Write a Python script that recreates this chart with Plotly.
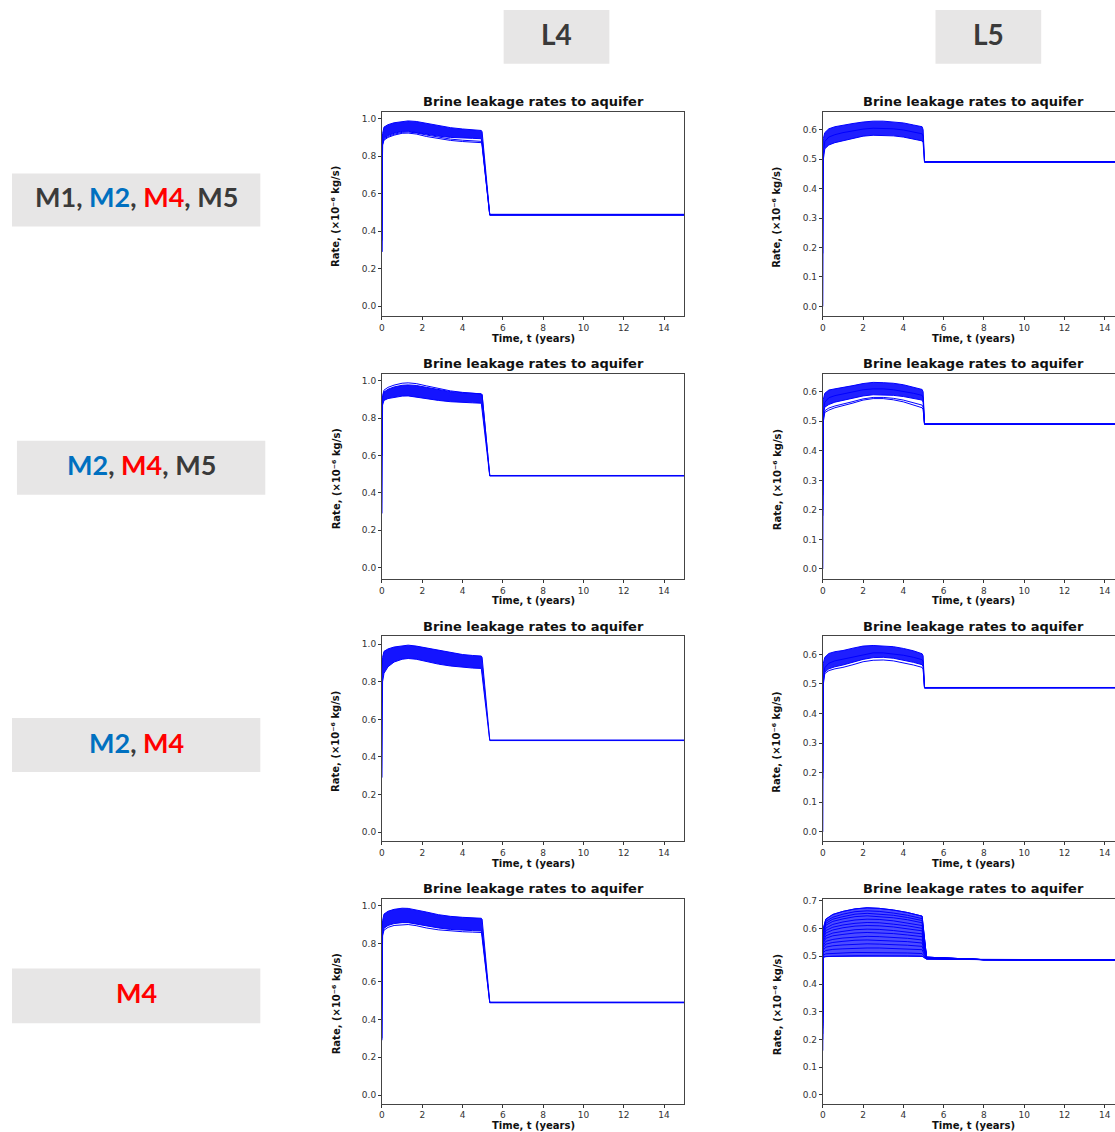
import plotly.graph_objects as go

# ---------------- data ----------------
COL_LABELS = ["L4", "L5"]
ROW_MODELS = [["M1", "M2", "M4", "M5"], ["M2", "M4", "M5"], ["M2", "M4"], ["M4"]]
MODEL_COLORS = {"M1": "#3a3a3a", "M2": "#0070c0", "M4": "#ff0000", "M5": "#3a3a3a"}
PANEL_TITLE = "Brine leakage rates to aquifer"
X_LABEL = "Time, t (years)"
Y_LABEL = "Rate, (×10⁻⁶ kg/s)"

X_TICKS = [0, 2, 4, 6, 8, 10, 12, 14]
Y_TICKS_L4 = [0.0, 0.2, 0.4, 0.6, 0.8, 1.0]
Y_TICKS_L5 = [0.0, 0.1, 0.2, 0.3, 0.4, 0.5, 0.6]
Y_TICKS_L5_R4 = [0.0, 0.1, 0.2, 0.3, 0.4, 0.5, 0.6, 0.7]

# time grids (years)
T_L4 = [0.0, 0.03, 0.1, 0.3, 0.6, 1.0, 1.3, 1.7, 2.2, 2.8, 3.4, 4.0, 4.5, 4.93, 4.97, 5.35, 15.0]
T_L5 = [0.0, 0.03, 0.1, 0.3, 0.6, 1.0, 1.5, 2.0, 2.5, 3.0, 3.5, 4.0, 4.5, 4.93, 4.98, 5.05, 15.0]
T_L5_R4 = [0.0, 0.03, 0.15, 0.5, 1.0, 1.6, 2.2, 2.8, 3.5, 4.2, 4.93, 5.0, 5.15, 8.0, 15.0]

# L4 column: ensemble envelopes (upper / lower) and separate member lines
L4_R1_UPPER = [0.69, 0.92, 0.955, 0.968, 0.978, 0.986, 0.988, 0.985, 0.975, 0.962, 0.952, 0.945, 0.94, 0.937, 0.93, 0.49, 0.49]
L4_R1_LOWER = [0.29, 0.86, 0.895, 0.91, 0.922, 0.932, 0.933, 0.928, 0.918, 0.907, 0.9, 0.897, 0.895, 0.893, 0.885, 0.485, 0.485]
L4_R1_LINES = [
    [0.29, 0.86, 0.885, 0.9, 0.912, 0.922, 0.923, 0.918, 0.905, 0.893, 0.884, 0.878, 0.874, 0.872, 0.865, 0.487, 0.487],
    [0.35, 0.87, 0.89, 0.905, 0.917, 0.927, 0.929, 0.924, 0.913, 0.9, 0.891, 0.885, 0.881, 0.879, 0.872, 0.487, 0.487],
]

L4_R2_UPPER = [0.69, 0.91, 0.94, 0.955, 0.967, 0.976, 0.978, 0.975, 0.965, 0.952, 0.942, 0.936, 0.932, 0.93, 0.925, 0.493, 0.493]
L4_R2_LOWER = [0.29, 0.87, 0.895, 0.905, 0.912, 0.918, 0.919, 0.915, 0.905, 0.895, 0.888, 0.884, 0.882, 0.88, 0.872, 0.49, 0.49]
L4_R2_LINES = [
    [0.6, 0.92, 0.95, 0.965, 0.977, 0.987, 0.989, 0.985, 0.973, 0.958, 0.946, 0.938, 0.933, 0.93, 0.925, 0.493, 0.493],
]

L4_R3_UPPER = [0.69, 0.93, 0.962, 0.975, 0.985, 0.993, 0.995, 0.99, 0.98, 0.965, 0.953, 0.945, 0.94, 0.937, 0.93, 0.49, 0.49]
L4_R3_LOWER = [0.29, 0.8, 0.845, 0.88, 0.905, 0.92, 0.924, 0.92, 0.908, 0.894, 0.884, 0.877, 0.873, 0.871, 0.865, 0.487, 0.487]
L4_R3_LINES = []

L4_R4_UPPER = [0.69, 0.92, 0.955, 0.97, 0.98, 0.986, 0.985, 0.978, 0.966, 0.952, 0.943, 0.938, 0.935, 0.933, 0.928, 0.491, 0.491]
L4_R4_LOWER = [0.29, 0.85, 0.88, 0.895, 0.905, 0.91, 0.91, 0.904, 0.893, 0.882, 0.874, 0.87, 0.868, 0.866, 0.86, 0.488, 0.488]
L4_R4_LINES = [
    [0.3, 0.84, 0.87, 0.885, 0.895, 0.9, 0.9, 0.894, 0.882, 0.872, 0.865, 0.862, 0.86, 0.858, 0.852, 0.488, 0.488],
]

# L5 column
L5_R1_UPPER = [0.42, 0.57, 0.59, 0.603, 0.61, 0.616, 0.621, 0.626, 0.629, 0.629, 0.627, 0.623, 0.616, 0.61, 0.6, 0.492, 0.492]
L5_R1_LOWER = [0.18, 0.5, 0.535, 0.548, 0.556, 0.562, 0.57, 0.578, 0.581, 0.581, 0.579, 0.575, 0.568, 0.562, 0.556, 0.489, 0.489]
L5_R1_LINES = [
    [0.0, 0.52, 0.56, 0.575, 0.583, 0.59, 0.596, 0.602, 0.605, 0.605, 0.603, 0.599, 0.592, 0.586, 0.578, 0.49, 0.49],
]

L5_R2_UPPER = [0.42, 0.575, 0.595, 0.606, 0.61, 0.614, 0.621, 0.628, 0.632, 0.631, 0.629, 0.624, 0.616, 0.608, 0.6, 0.492, 0.492]
L5_R2_LOWER = [0.18, 0.525, 0.548, 0.557, 0.565, 0.571, 0.579, 0.586, 0.59, 0.59, 0.588, 0.584, 0.578, 0.572, 0.565, 0.49, 0.49]
L5_R2_LINES = [
    [0.2, 0.5, 0.53, 0.538, 0.546, 0.552, 0.562, 0.572, 0.577, 0.577, 0.573, 0.566, 0.556, 0.546, 0.54, 0.49, 0.49],
    [0.25, 0.51, 0.536, 0.545, 0.552, 0.558, 0.567, 0.576, 0.581, 0.581, 0.578, 0.572, 0.563, 0.555, 0.548, 0.49, 0.49],
    [0.0, 0.53, 0.565, 0.58, 0.587, 0.593, 0.6, 0.607, 0.61, 0.61, 0.607, 0.602, 0.595, 0.588, 0.58, 0.491, 0.491],
]

L5_R3_UPPER = [0.42, 0.57, 0.59, 0.603, 0.609, 0.613, 0.621, 0.628, 0.63, 0.629, 0.626, 0.62, 0.612, 0.602, 0.595, 0.488, 0.488]
L5_R3_LOWER = [0.18, 0.51, 0.54, 0.551, 0.558, 0.564, 0.573, 0.583, 0.589, 0.59, 0.587, 0.581, 0.573, 0.565, 0.558, 0.486, 0.486]
L5_R3_LINES = [
    [0.2, 0.5, 0.535, 0.545, 0.551, 0.556, 0.565, 0.575, 0.58, 0.581, 0.578, 0.572, 0.564, 0.556, 0.55, 0.486, 0.486],
    [0.0, 0.52, 0.555, 0.57, 0.578, 0.584, 0.592, 0.6, 0.605, 0.605, 0.602, 0.597, 0.59, 0.582, 0.575, 0.487, 0.487],
]

# L5 row 4: widely spread realisations
L5_R4_LINES = [
    [0.37, 0.601, 0.634, 0.651, 0.662, 0.671, 0.675, 0.673, 0.667, 0.658, 0.645, 0.592, 0.497, 0.488, 0.487],
    [0.16, 0.594, 0.626, 0.641, 0.652, 0.661, 0.664, 0.662, 0.656, 0.648, 0.636, 0.586, 0.497, 0.488, 0.487],
    [0.30, 0.589, 0.619, 0.634, 0.643, 0.652, 0.655, 0.653, 0.648, 0.64, 0.629, 0.581, 0.497, 0.488, 0.487],
    [0.25, 0.584, 0.612, 0.626, 0.635, 0.643, 0.646, 0.644, 0.639, 0.632, 0.621, 0.576, 0.496, 0.488, 0.487],
    [0.33, 0.576, 0.602, 0.615, 0.624, 0.631, 0.634, 0.633, 0.628, 0.621, 0.611, 0.569, 0.496, 0.488, 0.487],
    [0.20, 0.569, 0.593, 0.605, 0.613, 0.619, 0.622, 0.621, 0.616, 0.61, 0.601, 0.563, 0.495, 0.488, 0.487],
    [0.28, 0.563, 0.584, 0.595, 0.603, 0.609, 0.611, 0.61, 0.606, 0.6, 0.592, 0.557, 0.495, 0.488, 0.487],
    [0.35, 0.555, 0.574, 0.584, 0.59, 0.596, 0.598, 0.597, 0.593, 0.588, 0.581, 0.549, 0.494, 0.488, 0.487],
    [0.22, 0.548, 0.565, 0.574, 0.579, 0.584, 0.586, 0.585, 0.582, 0.577, 0.571, 0.543, 0.494, 0.488, 0.487],
    [0.31, 0.539, 0.554, 0.561, 0.566, 0.57, 0.572, 0.571, 0.568, 0.565, 0.559, 0.535, 0.493, 0.488, 0.487],
    [0.26, 0.531, 0.544, 0.55, 0.554, 0.558, 0.559, 0.558, 0.556, 0.553, 0.548, 0.528, 0.493, 0.488, 0.487],
    [0.36, 0.523, 0.533, 0.538, 0.541, 0.544, 0.545, 0.544, 0.543, 0.54, 0.536, 0.52, 0.492, 0.488, 0.487],
    [0.24, 0.514, 0.521, 0.525, 0.527, 0.529, 0.53, 0.53, 0.528, 0.526, 0.524, 0.512, 0.492, 0.488, 0.487],
    [0.32, 0.504, 0.509, 0.511, 0.512, 0.514, 0.514, 0.514, 0.513, 0.512, 0.51, 0.503, 0.491, 0.488, 0.487],
    [0.29, 0.497, 0.499, 0.5, 0.501, 0.502, 0.502, 0.502, 0.501, 0.501, 0.5, 0.497, 0.49, 0.488, 0.487],
]
L5_R4_UPPER = L5_R4_LINES[0]
L5_R4_LOWER = L5_R4_LINES[-1]

PANELS = [
    # (time, upper, lower, member lines, band alpha, y ticks)
    (T_L4, L4_R1_UPPER, L4_R1_LOWER, L4_R1_LINES, 0.92, Y_TICKS_L4),
    (T_L5, L5_R1_UPPER, L5_R1_LOWER, L5_R1_LINES, 0.88, Y_TICKS_L5),
    (T_L4, L4_R2_UPPER, L4_R2_LOWER, L4_R2_LINES, 0.92, Y_TICKS_L4),
    (T_L5, L5_R2_UPPER, L5_R2_LOWER, L5_R2_LINES, 0.88, Y_TICKS_L5),
    (T_L4, L4_R3_UPPER, L4_R3_LOWER, L4_R3_LINES, 0.92, Y_TICKS_L4),
    (T_L5, L5_R3_UPPER, L5_R3_LOWER, L5_R3_LINES, 0.88, Y_TICKS_L5),
    (T_L4, L4_R4_UPPER, L4_R4_LOWER, L4_R4_LINES, 0.92, Y_TICKS_L4),
    (T_L5_R4, L5_R4_UPPER, L5_R4_LOWER, L5_R4_LINES, 0.7, Y_TICKS_L5_R4),
]

# ---------------- layout geometry (pixels) ----------------
W, H = 1115, 1132
COL_X = [(380, 683), (822, 1125)]
ROW_Y = [(109, 314), (371.5, 577.5), (635, 840.5), (898.3, 1103.5)]
Y_RANGES = [
    [(-0.053, 1.037), (-0.033, 0.661)],
    [(-0.061, 1.039), (-0.034, 0.662)],
    [(-0.049, 1.042), (-0.032, 0.661)],
    [(-0.044, 1.035), (-0.031, 0.707)],
]
PX_PER_YEAR = 303 / 15.0


def px(x):
    return x / W


def py(y):
    return 1 - y / H


BLUE = "#0000ff"
FONT = "DejaVu Sans"
LABEL_SIZE = 27

fig = go.Figure()
layout = {}
annotations = []
shapes = []

for k, (t, up, lo, lines, alpha, yt) in enumerate(PANELS):
    r, c = divmod(k, 2)
    ax = "" if k == 0 else str(k + 1)
    xa, ya = "x" + ax, "y" + ax
    # band of the ensemble
    fig.add_trace(go.Scatter(
        x=list(t) + list(t)[::-1], y=list(up) + list(lo)[::-1],
        mode="lines", fill="toself", fillcolor=f"rgba(0,0,255,{alpha})",
        line=dict(color=BLUE, width=1), xaxis=xa, yaxis=ya,
        hoverinfo="skip", showlegend=False))
    for ln in lines:
        fig.add_trace(go.Scatter(
            x=t, y=ln, mode="lines", line=dict(color=BLUE, width=1),
            xaxis=xa, yaxis=ya, hoverinfo="skip", showlegend=False))

    x0, x1 = COL_X[c]
    y0, y1 = ROW_Y[r]
    xr_max = min(x1, W)
    x_range = [0, (xr_max - x0) / PX_PER_YEAR]
    layout["xaxis" + ax] = dict(
        domain=[px(x0), px(xr_max)], range=x_range, anchor=ya,
        tickvals=X_TICKS, ticks="outside", ticklen=3, tickwidth=1, tickcolor="#333",
        showline=True, linecolor="#444", linewidth=1, mirror=True,
        showgrid=False, zeroline=False,
        tickfont=dict(family=FONT, size=9, color="#333"))
    layout["yaxis" + ax] = dict(
        domain=[py(y1), py(y0)], range=list(Y_RANGES[r][c]), anchor=xa,
        tickvals=yt, tickformat=".1f", ticks="outside", ticklen=3, tickwidth=1, tickcolor="#333",
        showline=True, linecolor="#444", linewidth=1, mirror=(c == 0),
        showgrid=False, zeroline=False,
        tickfont=dict(family=FONT, size=9, color="#333"))

    cx = (x0 + x1) / 2
    annotations.append(dict(
        text=PANEL_TITLE, x=px(cx), y=py(y0 - 10), xref="paper", yref="paper",
        xanchor="center", yanchor="middle", showarrow=False,
        font=dict(family=FONT, size=13, color="#111", weight="bold")))
    annotations.append(dict(
        text=X_LABEL, x=px(cx), y=py(y1 + 22), xref="paper", yref="paper",
        xanchor="center", yanchor="middle", showarrow=False,
        font=dict(family=FONT, size=10, color="#111", weight="bold")))
    annotations.append(dict(
        text=Y_LABEL, x=px(x0 - 46), y=py((y0 + y1) / 2 + 3), xref="paper", yref="paper",
        xanchor="center", yanchor="middle", showarrow=False, textangle=-90,
        font=dict(family=FONT, size=10, color="#111", weight="bold")))

# column headers
HEADER_BOXES = [(502, 608), (935, 1041)]
for lab, (bx0, bx1) in zip(COL_LABELS, HEADER_BOXES):
    shapes.append(dict(type="rect", xref="paper", yref="paper",
                       x0=px(bx0), x1=px(bx1), y0=py(61), y1=py(7),
                       fillcolor="#e7e6e6", line=dict(width=0), layer="below"))
    annotations.append(dict(
        text=lab, x=px((bx0 + bx1) / 2), y=py(31), xref="paper", yref="paper",
        xanchor="center", yanchor="middle", showarrow=False,
        font=dict(family="Lato", size=28, color="#3a3a3a", weight="bold")))

# row labels
ROW_BOXES = [(9, 258, 171, 224), (14, 263, 439, 493), (9, 258, 717, 771), (9, 258, 968, 1023)]
for models, (bx0, bx1, by0, by1) in zip(ROW_MODELS, ROW_BOXES):
    shapes.append(dict(type="rect", xref="paper", yref="paper",
                       x0=px(bx0), x1=px(bx1), y0=py(by1), y1=py(by0),
                       fillcolor="#e7e6e6", line=dict(width=0), layer="below"))
    sep = ", "
    txt = sep.join(f"<span style='color:{MODEL_COLORS[m]}'>{m}</span>" for m in models)
    annotations.append(dict(
        text=txt, x=px((bx0 + bx1) / 2), y=py((by0 + by1) / 2 - 3), xref="paper", yref="paper",
        xanchor="center", yanchor="middle", showarrow=False,
        font=dict(family="Lato", size=LABEL_SIZE, color="#3a3a3a", weight="bold")))

fig.update_layout(
    width=W, height=H, margin=dict(l=0, r=0, t=0, b=0),
    paper_bgcolor="white", plot_bgcolor="white",
    annotations=annotations, shapes=shapes, showlegend=False,
    **layout)

fig.write_html("out.html")
